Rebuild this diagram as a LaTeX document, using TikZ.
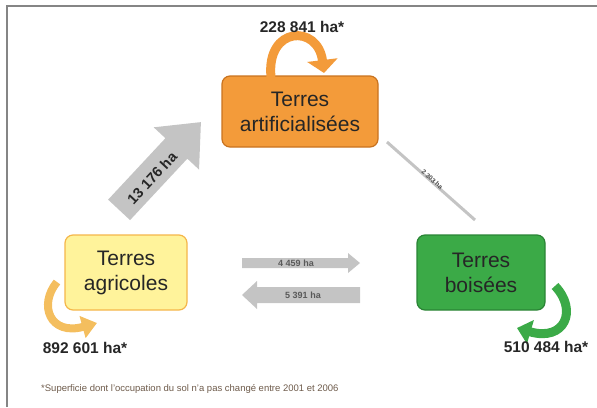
\documentclass[tikz,border=0pt]{standalone}
\usepackage{fontspec}
\setmainfont{Liberation Sans}
\usetikzlibrary{arrows.meta}
\definecolor{orangeF}{HTML}{F39B3A}
\definecolor{orangeD}{HTML}{C9731F}
\definecolor{yellowF}{HTML}{FFF39B}
\definecolor{yellowD}{HTML}{F5B64A}
\definecolor{greenF}{HTML}{3BAA47}
\definecolor{greenD}{HTML}{2A8435}
\definecolor{arrgray}{HTML}{C4C4C4}
\definecolor{framegray}{HTML}{858585}
\definecolor{notecol}{HTML}{6E5B4B}
\definecolor{loopyel}{HTML}{F4BE5E}
\begin{document}
\begin{tikzpicture}[x=1pt,y=-1pt,
  landbox/.style={rounded corners=8pt, line width=1.2pt, align=center,
    font=\fontsize{21}{25}\selectfont, inner sep=0pt, text=black!85},
  amount/.style={font=\bfseries\fontsize{15.5}{17}\selectfont, text=black!85},
  flowlabel/.style={font=\bfseries\fontsize{9}{10}\selectfont, text=black!65, inner sep=0pt},
  flowarrow/.style={fill=arrgray},
  loopline/.style={line width=9pt}
]
\useasboundingbox (0,0) rectangle (597,407);
% frame
\draw[framegray, line width=2.5pt] (7,407) -- (7,6) -- (597,6);

% boxes
\node[landbox, fill=orangeF, draw=orangeD, minimum width=156pt, minimum height=71pt] (art) at (300,111.5) {Terres\\artificialisées};
\node[landbox, fill=yellowF, draw=yellowD, minimum width=122pt, minimum height=75pt] (agr) at (126,272.5) {Terres\\agricoles};
\node[landbox, fill=greenF, draw=greenD, minimum width=128pt, minimum height=75pt] (bois) at (481,272.5) {Terres\\boisées};

% self loops
\coordinate (artA) at (271,77);
\coordinate (artB) at (324,73);
\draw[loopline, orangeF, -{Triangle[width=30pt,length=13pt]}] (artA) .. controls (266,26) and (318,24) .. (artB);
\coordinate (agrA) at (57,282);
\coordinate (agrB) at (97,323);
\draw[line width=8pt, loopyel, -{Triangle[width=22pt,length=15pt]}] (agrA) .. controls (38,305) and (50,336) .. (agrB);
\coordinate (boisA) at (555,286);
\coordinate (boisB) at (517,328);
\draw[loopline, greenF, -{Triangle[width=24pt,length=14pt]}] (boisA) .. controls (578,310) and (565,342) .. (boisB);

\node[amount] (artv) at (302,27) {228 841 ha*};
\node[amount] (agrv) at (85,348) {892 601 ha*};
\node[amount] (boisv) at (546,347) {510 484 ha*};

% big arrow agricole -> artificialisees
\begin{scope}[shift={(160,166)}, rotate=47]
  \fill[arrgray] (-60,-15) -- (24,-15) -- (24,-31) -- (60,0) -- (24,31) -- (24,15) -- (-60,15) -- cycle;
\end{scope}
\node[font=\bfseries\fontsize{14.5}{16}\selectfont, text=black!85, rotate=47, inner sep=0pt] (bigl) at (152,178) {13 176 ha};

% thin line boisees - artificialisees
\coordinate (thinA) at (387,142);
\coordinate (thinB) at (475,220);
\draw[arrgray, line width=3pt] (thinA) -- (thinB) node[pos=0.5, sloped, above=-2pt, font=\bfseries\fontsize{6.5}{7}\selectfont, text=black!70, inner sep=0pt] (thinl) {2 303 ha};

% horizontal arrows
\fill[flowarrow] (242,258) -- (348,258) -- (348,253) -- (360,263) -- (348,273) -- (348,268) -- (242,268) -- cycle;
\node[flowlabel] (r1) at (296,263) {4 459 ha};
\fill[flowarrow] (360,287) -- (257,287) -- (257,281) -- (242,295) -- (257,309) -- (257,303) -- (360,303) -- cycle;
\node[flowlabel] (r2) at (303,295) {5 391 ha};

% footnote
\node[anchor=west, inner sep=0pt, font=\fontsize{9.5}{11}\selectfont, text=notecol] (note) at (41,389) {*Superficie dont l'occupation du sol n'a pas changé entre 2001 et 2006};
\end{tikzpicture}
\end{document}
